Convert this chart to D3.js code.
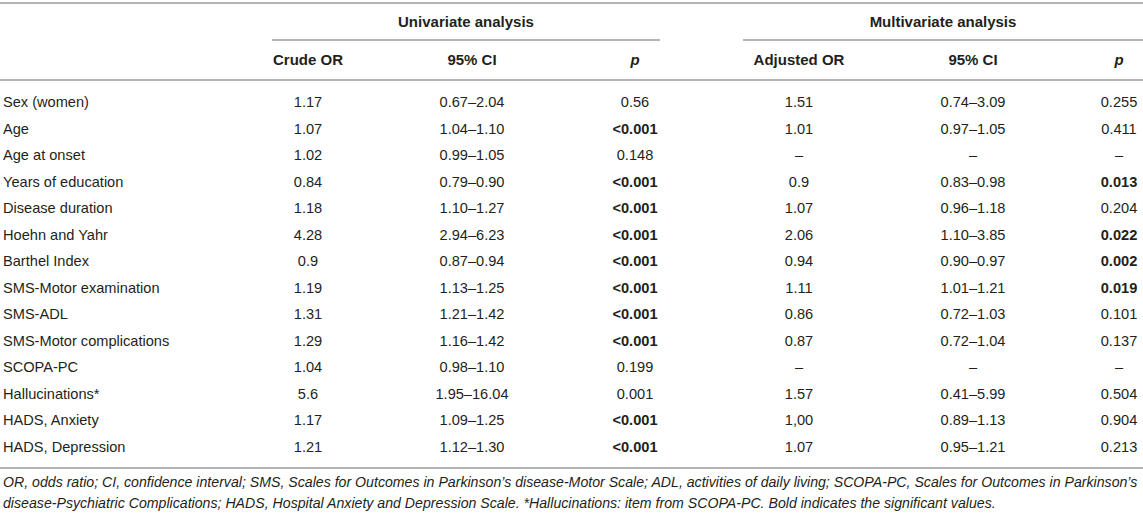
<!DOCTYPE html>
<html>
<head>
<meta charset="utf-8">
<script src="https://cdn.jsdelivr.net/npm/d3@7"></script>
<style>
  html, body { margin: 0; padding: 0; background: #fff; }
  svg { display: block; font-family: "Liberation Sans", Arial, Helvetica, sans-serif; }
</style>
</head>
<body>
<svg id="chart" width="1143" height="515"></svg>
<script>
// ---- data ----
const variables = ["Sex (women)", "Age", "Age at onset", "Years of education", "Disease duration",
  "Hoehn and Yahr", "Barthel Index", "SMS-Motor examination", "SMS-ADL", "SMS-Motor complications",
  "SCOPA-PC", "Hallucinations*", "HADS, Anxiety", "HADS, Depression"];
const crudeOR = ["1.17", "1.07", "1.02", "0.84", "1.18", "4.28", "0.9", "1.19", "1.31", "1.29", "1.04", "5.6", "1.17", "1.21"];
const uniCI = ["0.67–2.04", "1.04–1.10", "0.99–1.05", "0.79–0.90", "1.10–1.27", "2.94–6.23", "0.87–0.94",
  "1.13–1.25", "1.21–1.42", "1.16–1.42", "0.98–1.10", "1.95–16.04", "1.09–1.25", "1.12–1.30"];
const uniP = ["0.56", "<0.001", "0.148", "<0.001", "<0.001", "<0.001", "<0.001", "<0.001", "<0.001", "<0.001",
  "0.199", "0.001", "<0.001", "<0.001"];
const uniPBold = [false, true, false, true, true, true, true, true, true, true, false, false, true, true];
const adjOR = ["1.51", "1.01", "–", "0.9", "1.07", "2.06", "0.94", "1.11", "0.86", "0.87", "–", "1.57", "1,00", "1.07"];
const multiCI = ["0.74–3.09", "0.97–1.05", "–", "0.83–0.98", "0.96–1.18", "1.10–3.85", "0.90–0.97",
  "1.01–1.21", "0.72–1.03", "0.72–1.04", "–", "0.41–5.99", "0.89–1.13", "0.95–1.21"];
const multiP = ["0.255", "0.411", "–", "0.013", "0.204", "0.022", "0.002", "0.019", "0.101", "0.137",
  "–", "0.504", "0.904", "0.213"];
const multiPBold = [false, false, false, true, false, true, true, true, false, false, false, false, false, false];
const groups = ["Univariate analysis", "Multivariate analysis"];
const columns = ["Crude OR", "95% CI", "p", "Adjusted OR", "95% CI ", "p "];
const footnote = [
  "OR, odds ratio; CI, confidence interval; SMS, Scales for Outcomes in Parkinson’s disease-Motor Scale; ADL, activities of daily living; SCOPA-PC, Scales for Outcomes in Parkinson’s",
  "disease-Psychiatric Complications; HADS, Hospital Anxiety and Depression Scale. *Hallucinations: item from SCOPA-PC. Bold indicates the significant values."
];

// ---- layout ----
const W = 1143;
const textColor = "#231f20";
const ruleColor = "#b4b4b4";
const svg = d3.select("#chart");

const x = d3.scaleOrdinal().domain(columns).range([308, 472, 635, 799, 973, 1119]);
const y = d3.scalePoint().domain(variables).range([102, 446.5]);

// rules
function rule(x1, x2, yy) {
  svg.append("line").attr("x1", x1).attr("x2", x2).attr("y1", yy).attr("y2", yy)
    .attr("stroke", ruleColor).attr("stroke-width", 2);
}
rule(0, W, 3);
rule(272, 660, 40);
rule(743, W, 40);
rule(0, W, 80);
rule(0, W, 468);

// group headers
const groupCenters = [466, 943];
svg.selectAll("text.group").data(groups).join("text")
  .attr("class", "group")
  .attr("x", (d, i) => groupCenters[i]).attr("y", 22)
  .attr("dy", "0.35em").attr("text-anchor", "middle")
  .attr("font-size", 15).attr("font-weight", "bold").attr("fill", textColor)
  .text(d => d);

// column headers
svg.selectAll("text.col").data(columns).join("text")
  .attr("class", "col")
  .attr("x", d => x(d)).attr("y", 60)
  .attr("dy", "0.35em").attr("text-anchor", "middle")
  .attr("font-size", 15).attr("font-weight", "bold").attr("fill", textColor)
  .attr("font-style", d => d.trim() === "p" ? "italic" : null)
  .text(d => d.trim());

// body
const rowsData = variables.map((v, i) => ({
  v, cells: [
    { c: columns[0], t: crudeOR[i], b: false },
    { c: columns[1], t: uniCI[i], b: false },
    { c: columns[2], t: uniP[i], b: uniPBold[i] },
    { c: columns[3], t: adjOR[i], b: false },
    { c: columns[4], t: multiCI[i], b: false },
    { c: columns[5], t: multiP[i], b: multiPBold[i] }
  ]
}));

const rowG = svg.selectAll("g.row").data(rowsData).join("g")
  .attr("class", "row")
  .attr("transform", d => `translate(0,${y(d.v)})`);

rowG.append("text")
  .attr("x", 3).attr("dy", "0.35em")
  .attr("font-size", 14.6).attr("fill", textColor)
  .text(d => d.v);

rowG.selectAll("text.cell").data(d => d.cells).join("text")
  .attr("class", "cell")
  .attr("x", d => x(d.c)).attr("dy", "0.35em").attr("text-anchor", "middle")
  .attr("font-size", 14.6).attr("fill", textColor)
  .attr("font-weight", d => d.b ? "bold" : null)
  .text(d => d.t);

// footnote
const foot = svg.selectAll("text.foot").data(footnote).join("text")
  .attr("class", "foot")
  .attr("x", 3).attr("y", (d, i) => 482 + i * 21)
  .attr("dy", "0.35em")
  .attr("font-size", 14.3).attr("font-style", "italic").attr("fill", textColor)
  .text(d => d);
// shrink footnote font so that the longest line fits within the table width
const maxLen = d3.max(foot.nodes(), n => n.getComputedTextLength());
if (maxLen > W - 8) {
  foot.attr("font-size", 14.3 * (W - 8) / maxLen);
}
</script>
</body>
</html>
